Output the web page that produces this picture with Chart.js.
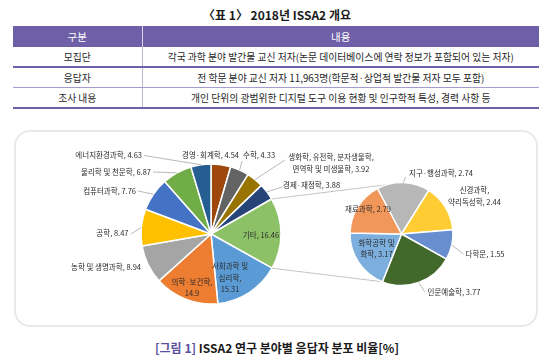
<!DOCTYPE html>
<html>
<head>
<meta charset="utf-8">
<script src="https://cdn.jsdelivr.net/npm/chart.js@4/dist/chart.umd.min.js"></script>
<style>
  body { margin: 0; width: 554px; height: 363px; background: #fff; position: relative; overflow: hidden;
         font-family: "Noto Sans CJK KR", sans-serif; }
  .title { position: absolute; left: 0; top: 7px; width: 554px; text-align: center;
           font-size: 12px; font-weight: bold; color: #1a1a1a; line-height: 16px; }
  table { position: absolute; left: 13px; top: 26px; width: 526px; border-collapse: collapse;
          table-layout: fixed; font-size: 9.8px; color: #262626; }
  th { background: #6e5fa8; color: #fff; font-weight: normal; font-size: 10.5px; height: 21px; padding: 0; }
  th:first-child { border-right: 1px solid #d9d4ec; }
  td { height: 19px; padding: 0; text-align: center; line-height: 12px; }
  td:first-child { border-right: 1px solid #b9b3d6; }
  tr.r1 td { border-bottom: 2px solid #6e5fa8; }
  tr.r2 td { border-bottom: 1px solid #a59cd0; }
  tr.r3 td { border-bottom: 2px solid #6e5fa8; }
  .frame { position: absolute; left: 14px; top: 130px; width: 524px; height: 197px;
           box-sizing: border-box; border: 2px solid #e8e8e8; border-radius: 16px; }
  .wrap { position: absolute; left: 14px; top: 130px; width: 524px; height: 197px; }
  .wrap canvas { position: absolute; left: 0; top: 0; }
  .caption { position: absolute; left: 0; top: 340px; width: 554px; text-align: center;
             font-size: 12px; font-weight: bold; color: #1a1a1a; line-height: 16px; }
  .caption span { color: #5b4ea0; }
</style>
</head>
<body>
<div class="title">〈표 1〉 2018년 ISSA2 개요</div>
<table>
  <colgroup><col style="width:129px"><col></colgroup>
  <tr><th>구분</th><th>내용</th></tr>
  <tr class="r1"><td>모집단</td><td>각국 과학 분야 발간물 교신 저자(논문 데이터베이스에 연락 정보가 포함되어 있는 저자)</td></tr>
  <tr class="r2"><td>응답자</td><td>전 학문 분야 교신 저자 11,963명(학문적·상업적 발간물 저자 모두 포함)</td></tr>
  <tr class="r3"><td>조사 내용</td><td>개인 단위의 광범위한 디지털 도구 이용 현황 및 인구학적 특성, 경력 사항 등</td></tr>
</table>
<div class="frame"></div>
<div class="wrap">
  <canvas id="mainPie" width="524" height="197"></canvas>
  <canvas id="otherPie" width="524" height="197"></canvas>
</div>
<div class="caption"><span>[그림 1]</span> ISSA2 연구 분야별 응답자 분포 비율[%]</div>

<script>
// main pie, clockwise from 12 o'clock
const mainLabels = ['경영·회계학', '수학', ['생화학, 유전학, 분자생물학,', '면역학 및 미생물학'], '경제·재정학',
  '기타', ['사회과학 및', '심리학'], '의학·보건학', '농학 및 생명과학', '공학', '컴퓨터과학', '물리학 및 천문학', '에너지환경과학']
const mainValues = [4.54, 4.33, 3.92, 3.88, 16.46, 15.31, 14.9, 8.94, 8.47, 7.76, 6.87, 4.63]
const otherIndex = 4 // '기타' is split into the second pie

// second pie (breakdown of 기타)
const otherLabels = ['지구·행성과학', ['신경과학,', '약리독성학'], '다학문', '인문예술학', ['화학공학 및', '화학'], '재료과학']
const otherValues = [2.74, 2.44, 1.55, 3.77, 3.17, 2.79]

const mainColors = ['#9E480E', '#636363', '#997300', '#264478', '#8CC168', '#5B9BD5',
  '#ED7D31', '#A5A5A5', '#FFC000', '#4472C4', '#70AD47', '#255E91']
const otherColors = ['#B7B7B7', '#FFCD33', '#698ED0', '#43682B', '#7CAFDD', '#F1975A']

// label placement, offsets from the pie centre
const mainLayout = [
  { dx: -0.5, dy: -78.5, align: 'center' },
  { dx: 32, dy: -78.5, align: 'left', lead: [31, -73] },
  { dx: 120, dy: -71, align: 'center', lead: [74, -74] },
  { dx: 72, dy: -49, align: 'left', lead: [71, -47] },
  { dx: 50, dy: 1, align: 'center' },
  { dx: 19, dy: 44, align: 'center', brk: true },
  { dx: -19, dy: 53.5, align: 'center', brk: true },
  { dx: -70, dy: 33, align: 'right' },
  { dx: -82.5, dy: -1, align: 'right', lead: [-80, 0] },
  { dx: -75, dy: -43, align: 'right', lead: [-73, -43] },
  { dx: -60, dy: -62, align: 'right', lead: [-58, -62] },
  { dx: -69, dy: -78.5, align: 'right', lead: [-67, -78.5] },
]
const otherLayout = [
  { dx: 7.5, dy: -60.7, align: 'left', lead: [4, -57] },
  { dx: 73, dy: -37.7, align: 'center' },
  { dx: 64, dy: 20, align: 'left', lead: [62, 20] },
  { dx: 26, dy: 57.7, align: 'left', lead: [23, 57.5] },
  { dx: -25, dy: 14.7, align: 'center' },
  { dx: -33.5, dy: -24.7, align: 'center' },
]
const connectorAngles = [3, 202] // where the joining lines meet the second pie (deg from top)

const labelFont = '7.5px "Noto Sans CJK KR"'
const lineH = 11.5

const sliceLabels = (layout, labels, values) => ({
  id: 'sliceLabels',
  afterDatasetsDraw(chart) {
    const ctx = chart.ctx
    const arcs = chart.getDatasetMeta(0).data
    ctx.save()
    ctx.font = labelFont
    ctx.fillStyle = '#2b2b2b'
    ctx.strokeStyle = '#a6a6a6'
    ctx.lineWidth = 0.8
    ctx.textBaseline = 'middle'
    arcs.forEach((arc, i) => {
      const p = arc.getProps(['x', 'y', 'startAngle', 'endAngle', 'outerRadius'])
      const L = layout[i]
      if (L.lead) {
        const mid = (p.startAngle + p.endAngle) / 2
        ctx.beginPath()
        ctx.moveTo(p.x + L.lead[0], p.y + L.lead[1])
        ctx.lineTo(p.x + Math.cos(mid) * p.outerRadius, p.y + Math.sin(mid) * p.outerRadius)
        ctx.stroke()
      }
      const lines = [].concat(labels[i])
      const last = lines.pop()
      if (L.brk) lines.push(last + ',', String(values[i]))
      else lines.push(last + ', ' + values[i])
      ctx.textAlign = L.align
      lines.forEach((ln, k) => {
        ctx.fillText(ln, p.x + L.dx, p.y + L.dy + (k - (lines.length - 1) / 2) * lineH)
      })
    })
    ctx.restore()
  }
})

const pieOptions = (radius, rotation, padding) => ({
  responsive: false,
  animation: false,
  radius: radius,
  rotation: rotation,
  layout: { padding: padding },
  plugins: { legend: { display: false }, tooltip: { enabled: false } }
})

const mainChart = new Chart(document.getElementById('mainPie'), {
  type: 'pie',
  data: {
    labels: mainLabels,
    datasets: [{ data: mainValues, backgroundColor: mainColors, borderColor: '#fff', borderWidth: 1.5 }]
  },
  options: pieOptions(70, 0, { left: 0, right: 130, top: 11, bottom: 0 }),
  plugins: [sliceLabels(mainLayout, mainLabels, mainValues)]
})

const connectors = {
  id: 'connectors',
  beforeDatasetsDraw(chart) {
    const src = mainChart.getDatasetMeta(0).data[otherIndex].getProps(['x', 'y', 'startAngle', 'endAngle', 'outerRadius'])
    const dst = chart.getDatasetMeta(0).data[0].getProps(['x', 'y', 'outerRadius'])
    const ctx = chart.ctx
    ctx.save()
    ctx.strokeStyle = '#c4c4c4'
    ctx.lineWidth = 1
    ;[src.startAngle, src.endAngle].forEach((a, k) => {
      const b = (connectorAngles[k] - 90) * Math.PI / 180
      ctx.beginPath()
      ctx.moveTo(src.x + Math.cos(a) * src.outerRadius, src.y + Math.sin(a) * src.outerRadius)
      ctx.lineTo(dst.x + Math.cos(b) * dst.outerRadius, dst.y + Math.sin(b) * dst.outerRadius)
      ctx.stroke()
    })
    ctx.restore()
  }
}

new Chart(document.getElementById('otherPie'), {
  type: 'pie',
  data: {
    labels: otherLabels,
    datasets: [{ data: otherValues, backgroundColor: otherColors, borderColor: '#fff', borderWidth: 1.5 }]
  },
  options: pieOptions(51.5, -27.9, { left: 251, right: 0, top: 11, bottom: 0 }),
  plugins: [connectors, sliceLabels(otherLayout, otherLabels, otherValues)]
})
</script>
</body>
</html>
